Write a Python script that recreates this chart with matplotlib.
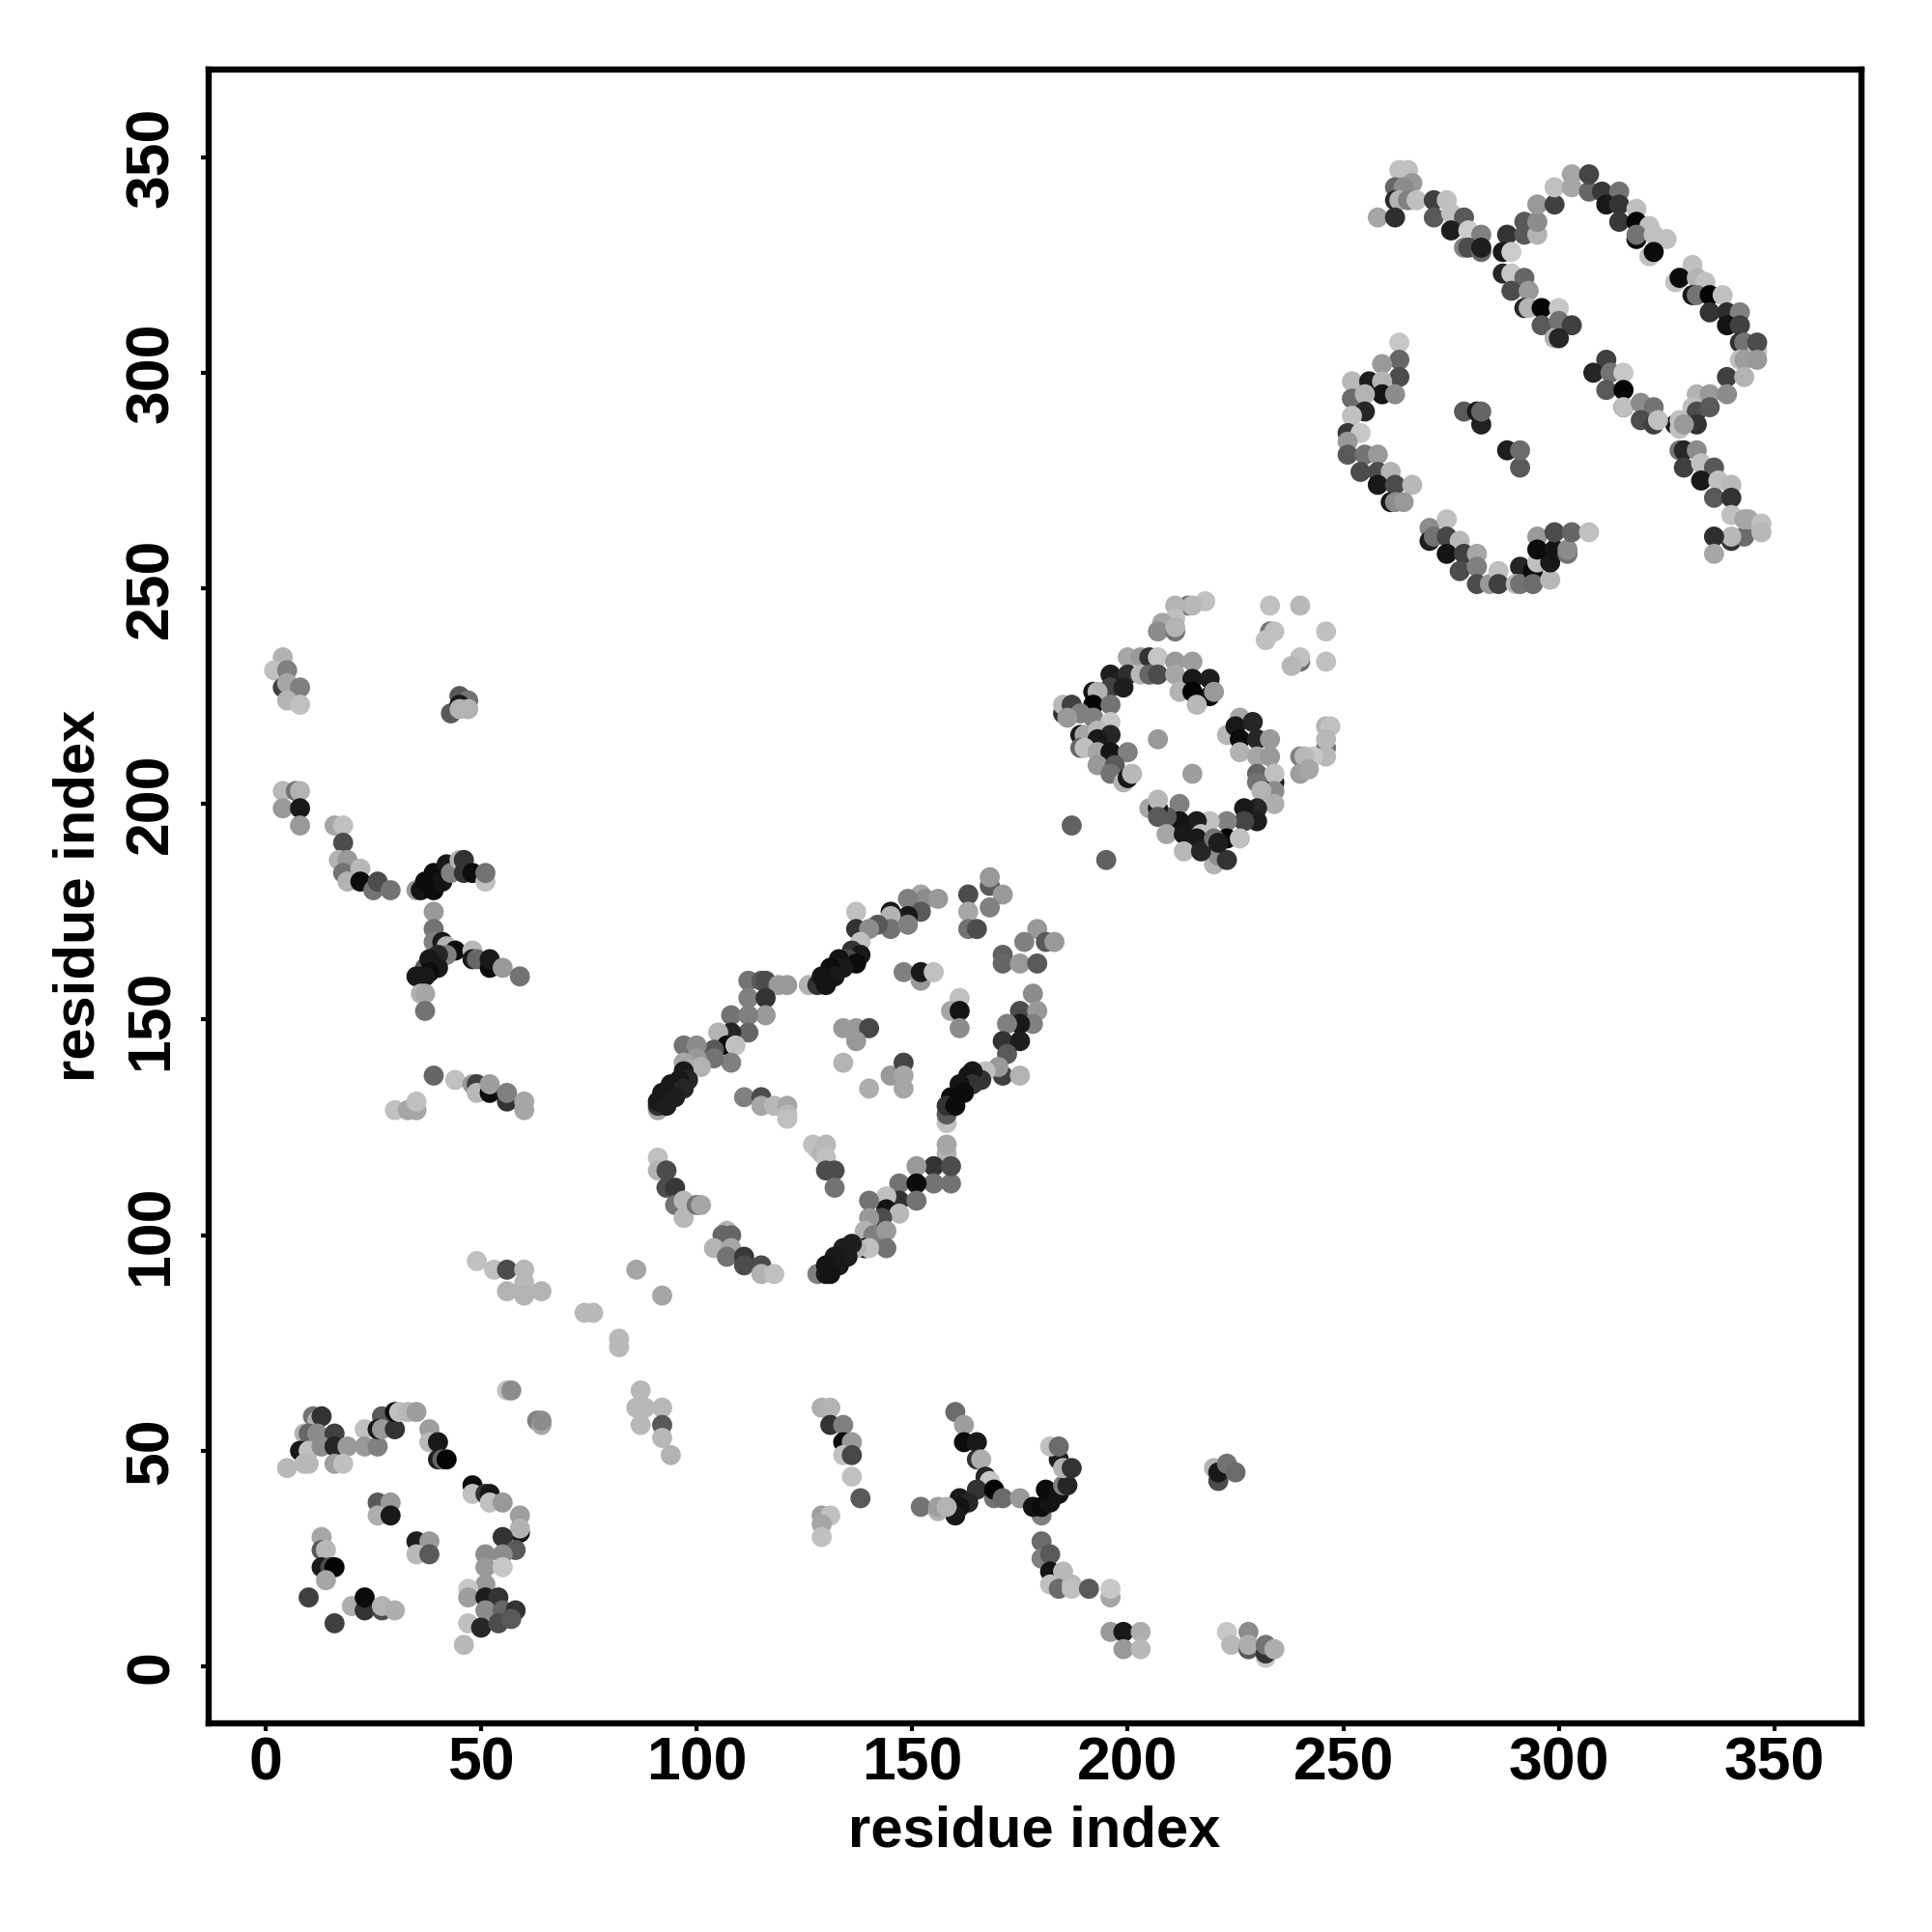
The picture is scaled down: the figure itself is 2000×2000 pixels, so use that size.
import numpy as np
import matplotlib
matplotlib.use('Agg')
import matplotlib.pyplot as plt

plt.rcParams['font.family'] = ['Liberation Sans', 'DejaVu Sans']

# contacts as (residue i, residue j, grey level)
top_right = [
    (263,347,.75),(265,347,.75),(262,343,.4),(266,344,.6),(264,343,.55),(262,340,.15),(263,340,.7),(265,340,.5),
    (267,340,.75),(258,336,.65),(262,336,.18),(271,340,.25),(274,340,.75),(271,336,.35),(275,337,.75),(278,336,.35),
    (275,333,.12),(279,333,.8),(282,332,.5),(278,329,.5),(279,329,.3),(282,328,.4),(282,329,.12),
    (288,332,.2),(287,328,.1),(289,328,.8),(292,332,.35),(292,335,.35),(295,332,.7),(295,335,.55),(295,339,.6),
    (299,339,.25),(299,343,.75),(303,346,.65),(303,343,.65),(307,342,.4),(307,346,.27),(310,342,.22),(314,342,.45),
    (311,339,.1),(314,339,.2),(318,338,.75),(314,335,.22),(318,335,.02),(321,334,.75),(318,331,.05),(318,332,.45),
    (322,332,.75),(325,331,.75),(321,327,.75),(322,328,.05),
    (331,325,.75),(327,321,.75),(328,322,.05),(332,322,.7),(334,321,.75),(331,318,.1),(332,318,.45),(335,318,.02),
    (338,318,.75),(335,314,.2),(339,314,.18),(342,314,.5),(339,311,.08),(342,311,.25),(342,307,.2),(343,307,.45),
    (346,305,.75),(346,307,.3),(342,303,.75),(343,303,.62),(346,303,.6),(339,299,.25),(343,299,.7),(332,295,.7),
    (335,295,.6),(339,295,.55),(331,292,.75),(332,291,.3),(335,292,.35),(332,288,.2),(327,288,.1),(328,287,.75),
    (328,289,.75),(329,288,.6),
    (287,323,.15),(289,323,.78),(292,322,.4),(289,319,.3),(293,319,.6),(292,315,.15),(293,315,.7),(296,315,.02),
    (300,315,.78),(296,311,.35),(300,312,.45),(303,311,.25),(299,308,.7),(300,308,.15),
    (311,303,.25),(308,300,.15),(312,300,.45),(315,300,.78),(311,296,.35),(315,296,.02),(315,292,.15),(315,292,.75),
    (319,293,.55),(322,292,.45),(319,289,.3),(322,288,.25),(323,289,.75),
    (328,282,.45),(329,282,.15),(332,282,.55),(329,278,.25),(333,279,.75),(336,278,.35),(333,275,.1),(337,275,.75),
    (340,274,.72),(336,271,.35),(340,271,.2),(340,261,.2),(340,267,.75),(343,262,.42),(340,262,.72),(343,266,.65),
    (344,266,.65),(347,265,.75),(347,263,.72),(336,262,.18),(336,258,.65),
    (263,307,.78),(263,303,.4),(259,302,.6),(263,299,.3),(252,298,.72),(256,298,.12),(259,298,.7),(259,295,.08),
    (262,295,.55),(252,294,.42),(255,295,.7),(255,291,.15),(252,290,.75),(251,286,.22),(254,286,.78),(251,284,.6),
    (251,281,.35),(255,281,.45),(258,281,.6),(254,277,.3),(258,277,.3),(261,277,.7),(258,274,.1),(262,274,.3),
    (266,274,.72),(261,270,.1),(262,270,.55),(264,270,.6),
    (270,264,.55),(274,266,.75),(270,261,.12),(271,262,.45),(274,262,.28),(277,261,.72),(274,258,.08),(278,258,.25),
    (281,258,.65),(277,254,.3),(281,255,.5),(281,251,.3),(284,251,.6),(286,254,.75),(286,251,.25),(291,255,.15),
    (290,251,.72),(291,251,.45),(294,254,.05),(294,251,.42),(298,252,.72),(295,256,.75),(298,256,.1),(295,262,.6),
    (295,259,.05),(299,259,.08),(299,263,.3),(302,258,.45),(302,259,.55),(303,263,.4),(307,263,.75),
    (278,291,.35),(281,291,.1),(282,288,.13),(282,291,.4),(288,282,.12),(291,278,.35),(291,282,.42),
]

middle_ring = [
    (233,246,.75),(240,246,.72),(218,247,.75),(214,246,.45),(215,246,.72),(211,246,.7),(211,243,.75),(208,242,.65),
    (207,240,.55),(211,240,.45),(211,241,.7),(233,240,.45),(234,240,.75),(232,238,.75),(246,240,.75),(240,233,.45),
    (240,234,.75),(238,232,.72),(246,233,.75),
    (200,234,.65),(203,234,.6),(205,234,.2),(207,234,.77),(211,233,.6),(215,233,.62),(196,230,.12),(200,230,.18),
    (203,230,.72),(205,230,.4),(207,230,.3),(211,230,.65),(215,229,.1),(219,229,.12),(196,227,.25),(199,227,.12),
    (192,226,.08),(193,226,.7),(212,226,.7),(215,226,.02),(219,225,.05),(220,226,.6),(216,223,.72),(192,223,.02),
    (196,223,.45),(185,221,.2),(185,223,.72),(187,223,.25),(189,221,.5),(192,220,.5),(196,219,.78),(186,220,.6),
    (189,216,.1),(190,216,.65),(193,217,.72),(196,216,.15),(193,215,.1),(189,213,.4),(190,213,.75),(193,212,.65),
    (196,212,.08),(200,212,.5),(193,209,.6),(197,209,.35),(196,207,.45),(199,205,.7),(200,206,.1),(201,207,.72),
    (207,215,.6),(215,207,.62),(187,195,.38),(195,187,.38),
    (223,216,.72),(226,220,.65),(225,218,.1),(229,219,.15),(226,215,.05),(230,215,.15),(233,215,.6),(226,212,.7),
    (230,211,.65),(233,211,.6),(230,207,.4),(234,205,.1),(234,207,.75),(230,205,.45),(234,203,.55),(231,203,.7),
    (234,200,.68),(230,199,.15),(227,199,.1),(230,196,.12),(227,196,.27),(223,196,.5),(223,192,.02),(226,192,.75),
    (220,186,.7),(221,188,.55),(223,187,.2),(219,196,.75),(216,196,.12),(212,200,.5),(212,196,.08),(209,197,.35),
    (205,199,.65),(207,199,.1),(207,201,.72),(207,197,.35),(209,193,.65),(213,193,.1),(217,193,.75),(216,192,.1),
    (213,189,.72),(217,189,.15),(220,192,.45),(221,191,.12),
    (246,218,.7),(247,218,.75),(246,213,.45),(246,215,.72),(246,211,.72),(243,211,.78),(240,211,.5),(241,211,.72),
    (240,207,.62),(242,208,.65),
]

central_block = [
    (152,179,.65),(153,178,.55),(156,178,.6),(149,178,.5),(152,175,.35),(145,175,.1),(149,174,.1),(137,175,.75),
    (145,174,.7),(145,171,.45),(149,172,.5),(142,172,.35),(137,171,.2),(140,171,.55),(138,168,.75),(136,166,.2),
    (138,165,.1),(135,164,.3),(137,163,.05),(133,164,.08),(134,162,.1),(131,162,.05),(132,160,.1),(126,158,.7),
    (128,158,.2),(129,160,.08),(130,158,.08),
    (163,179,.3),(168,181,.35),(168,183,.6),(171,179,.6),(163,175,.65),(168,176,.5),(163,171,.45),(165,171,.3),
    (179,171,.6),(176,168,.5),(181,168,.35),(183,168,.6),(171,165,.38),(171,163,.4),(175,163,.6),(179,163,.35),
    (148,161,.5),(152,159,.6),(152,161,.1),(155,161,.75),
    (178,156,.55),(161,155,.75),(159,152,.65),(161,152,.08),(161,148,.55),(175,152,.3),(179,152,.6),(178,149,.5),
    (175,149,.1),(172,149,.5),(171,145,.2),(175,145,.12),(172,142,.35),(171,137,.25),(175,137,.7),(170,139,.6),
    (167,138,.75),(166,136,.2),(164,138,.1),(163,137,.08),(164,135,.2),(161,135,.08),(162,133,.05),(159,132,.05),
    (158,126,.75),(158,128,.35),(158,130,.2),(160,130,.05),
    (158,119,.7),(158,121,.65),(155,116,.2),(151,116,.6),(159,112,.45),(159,116,.3),(155,112,.45),(147,112,.45),
    (151,112,.05),(147,108,.2),(151,108,.45),(144,109,.75),(144,106,.08),(147,105,.72),(140,108,.45),(143,104,.3),
    (140,104,.6),(139,101,.7),(141,100,.5),(144,101,.6),(144,97,.45),(139,97,.05),(140,97,.75),(137,97,.7),
    (136,98,.12),(134,97,.12),(135,95,.12),(132,95,.1),(133,93,.1),(128,91,.5),(130,93,.08),(130,91,.1),(131,91,.08),
    (112,159,.45),(115,159,.35),(116,159,.3),(119,158,.6),(121,158,.6),(112,155,.5),(116,155,.2),(116,151,.6),
    (108,151,.45),(112,151,.5),(112,147,.4),(108,147,.15),(105,147,.7),(107,144,.05),(109,144,.75),(104,143,.35),
    (97,144,.45),(100,144,.55),(108,140,.5),(104,141,.45),(100,141,.6),(97,140,.65),(101,139,.7),(97,138,.1),
    (98,136,.15),(96,136,.1),(94,135,.1),(97,134,.15),(92,133,.1),(95,132,.12),(91,129,.65),(91,130,.2),(91,131,.1),
    (93,130,.12),
    (111,132,.5),(115,132,.3),(115,130,.65),(118,130,.72),(121,130,.65),(121,128,.72),(121,127,.75),
    (127,121,.75),(128,120,.75),(129,119,.7),(130,121,.72),(130,118,.75),(130,115,.3),(132,115,.3),(132,111,.45),
    (91,118,.75),(91,115,.7),(93,115,.3),(93,111,.3),(95,111,.22),(95,107,.45),(97,108,.72),(97,104,.72),
    (100,107,.45),(101,107,.65),(107,101,.7),(106,100,.4),(108,100,.4),(104,97,.7),(108,97,.65),(107,95,.45),
    (111,95,.22),(111,93,.3),(115,93,.3),(115,91,.7),(118,91,.75),
    (134,140,.7),(134,148,.6),(137,148,.6),(140,148,.28),(137,145,.6),(145,137,.6),(148,140,.27),(148,137,.65),
    (148,134,.65),(140,134,.68),
]

upper_left = [
    (4,234,.7),(2,231,.75),(5,231,.5),(4,227,.25),(5,228,.65),(8,227,.5),(5,224,.7),(8,223,.75),
    (45,225,.7),(45,225,.35),(47,224,.45),(43,221,.35),(45,223,.1),(45,222,.7),(47,222,.7),
    (4,203,.72),(7,203,.45),(8,203,.7),(4,199,.6),(8,199,.1),(8,195,.6),
    (16,195,.65),(18,195,.75),(18,191,.3),(17,187,.7),(19,187,.6),(18,184,.45),(22,185,.72),(19,182,.7),(22,182,.05),
    (25,180,.45),(26,182,.3),(29,180,.45),
    (35,180,.6),(36,180,.08),(37,182,.05),(39,180,.05),(39,184,.05),(41,182,.08),(42,186,.1),(43,184,.5),(45,187,.7),
    (46,187,.2),(46,184,.2),(48,184,.05),(51,182,.75),(51,184,.45),
    (39,175,.6),(39,171,.45),(39,168,.5),(41,168,.1),(42,167,.7),(44,166,.05),(42,165,.5),(40,165,.15),(37,162,.35),
    (38,164,.1),(40,162,.1),(38,161,.05),(35,160,.1),(37,160,.1),(36,156,.7),(37,156,.65),(37,152,.45),
    (48,166,.72),(48,164,.1),(49,164,.4),(52,162,.05),(52,164,.1),(55,162,.6),(59,160,.45),
    (39,137,.4),(44,136,.75),(48,135,.6),(49,135,.25),(49,133,.72),(52,133,.05),(52,135,.62),(56,131,.2),(56,133,.5),
    (60,129,.65),(60,131,.65),(30,129,.75),(33,129,.65),(35,129,.65),(35,131,.75),
]

near_diagonal = [
    (49,94,.75),(53,92,.75),(56,92,.3),(60,92,.72),(60,89,.72),(56,87,.7),(60,86,.7),(64,87,.7),(74,82,.72),(76,82,.72),
    (82,76,.72),(82,74,.72),(86,92,.65),(92,86,.65),(87,64,.72),(86,60,.72),(88,60,.72),(92,60,.72),(87,56,.72),
    (92,56,.35),(92,53,.72),(94,49,.7),
]

lower_left = [
    (56,64,.75),(57,64,.55),(63,57,.5),(64,56,.65),(64,57,.55),
    (11,58,.45),(12,57,.7),(13,58,.2),(9,54,.7),(10,54,.4),(12,54,.55),(16,54,.25),(8,50,.1),(10,50,.75),(13,51,.55),
    (16,51,.15),(19,51,.6),(23,55,.75),(23,51,.6),(26,51,.5),(27,58,.35),(26,55,.1),(27,55,.6),(30,55,.2),(30,59,.05),
    (31,59,.75),(33,59,.72),(35,59,.62),(38,55,.62),(38,52,.72),(40,52,.1),(40,48,.12),(41,48,.4),(42,48,.02),
    (5,46,.72),(9,47,.72),(10,47,.72),(16,47,.62),(18,47,.75),
    (48,42,.05),(48,40,.75),(51,40,.2),(52,40,.1),(52,38,.75),(55,38,.6),
    (26,38,.35),(29,38,.6),(26,35,.68),(29,35,.1),(35,29,.12),(38,29,.6),(35,26,.72),(38,26,.35),
    (13,30,.65),(13,27,.35),(14,27,.72),(13,23,.1),(15,23,.3),(16,23,.02),(14,20,.65),(10,16,.25),(16,10,.25),
    (20,14,.68),(23,13,.2),(23,16,.05),(27,13,.3),(27,14,.7),(30,13,.68),
    (59,35,.62),(59,31,.1),(59,32,.7),(55,30,.2),(58,27,.35),(55,26,.55),(51,26,.55),(51,23,.6),(55,23,.78),(51,19,.6),
    (47,18,.78),(47,16,.62),(51,16,.12),(54,16,.2),(51,13,.55),(55,13,.4),(58,13,.2),(47,10,.75),(50,9,.72),(50,9,.15),
    (54,10,.3),(57,11,.35),(46,5,.72),
]

lower_right = [
    (129,60,.68),(131,60,.7),(131,56,.2),(134,56,.5),(134,52,.05),(136,52,.6),(134,49,.75),(136,49,.28),(136,44,.75),
    (138,39,.35),(129,35,.62),(131,35,.75),(129,33,.65),(129,30,.75),
    (160,59,.42),(162,56,.62),(162,52,.05),(165,52,.1),(165,48,.2),(166,48,.68),(167,44,.15),(168,43,.78),(169,39,.45),
    (165,41,.2),(161,39,.1),(163,38,.15),(161,37,.08),(160,35,.1),(169,41,.02),(171,39,.42),(175,39,.6),
    (152,37,.45),(156,36,.7),(156,37,.62),(158,37,.7),
    (180,35,.5),(178,37,.08),(180,37,.05),(182,38,.08),(181,41,.05),(184,40,.08),(185,42,.5),(186,42,.15),(184,48,.12),
    (185,46,.7),(187,46,.2),(182,51,.75),(184,51,.42),
    (180,29,.42),(180,25,.5),(182,26,.35),(182,22,.08),(185,22,.72),(182,19,.75),(184,18,.42),(187,19,.72),(187,18,.75),
    (191,18,.35),(196,16,.65),(196,18,.78),
    (196,8,.6),(199,8,.1),(203,8,.68),(199,4,.6),(203,4,.72),
    (223,8,.78),(228,8,.55),(224,5,.72),(228,4,.35),(228,5,.68),(232,2,.78),(232,3,.2),(232,5,.45),(234,4,.68),
    (220,46,.7),(221,43,.3),(221,45,.1),(223,47,.45),(225,45,.42),
]

ticks = [0, 50, 100, 150, 200, 250, 300, 350]

contacts = np.array(top_right + middle_ring + central_block + upper_left
                    + near_diagonal + lower_left + lower_right)

fig = plt.figure(figsize=(10, 10), dpi=200)
ax = fig.add_axes([216/2000, 216/2000, 1711/2000, 1712/2000])

ax.scatter(contacts[:, 0], contacts[:, 1], c=contacts[:, 2], cmap='gray', vmin=0, vmax=1,
           s=56, linewidths=0, clip_on=False)

ax.set_xlim(-13.2, 370.2)
ax.set_ylim(-13.2, 370.3)
ax.set_xticks(ticks)
ax.set_yticks(ticks)
ax.tick_params(length=3, width=1.5, labelsize=22.5)
ax.tick_params(axis='x', pad=1.5)
ax.tick_params(axis='y', pad=7.5)
for lab in ax.get_xticklabels() + ax.get_yticklabels():
    lab.set_fontweight('bold')
for lab in ax.get_yticklabels():
    lab.set_rotation(90)
    lab.set_va('center')
for s in ax.spines.values():
    s.set_linewidth(2.3)

fig.text(1071/2000, 1 - 1896/2000, 'residue index', ha='center', va='center', fontsize=21.5, fontweight='bold')
fig.text(82/2000, 1 - 927/2000, 'residue index', ha='center', va='center', rotation=90, fontsize=21.5, fontweight='bold')

fig.savefig('out.png', dpi=200)
